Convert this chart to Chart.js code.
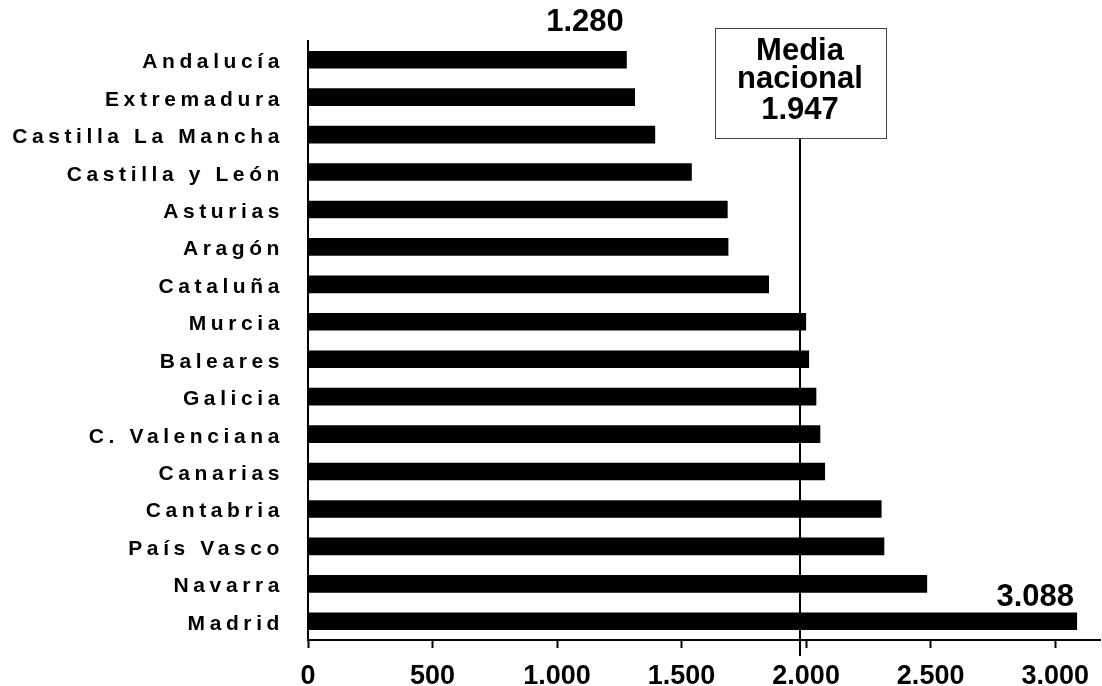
<!DOCTYPE html>
<html>
<head>
<meta charset="utf-8">
<script src="https://cdn.jsdelivr.net/npm/chart.js@4.4.1/dist/chart.umd.min.js"></script>
<style>
    html, body { margin: 0; padding: 0; background: #fff; }
    canvas { display: block; }
</style>
</head>
<body>
<canvas id="chart" width="1102" height="686"></canvas>
<script>
const regiones = ["Andalucía", "Extremadura", "Castilla La Mancha", "Castilla y León", "Asturias", "Aragón",
    "Cataluña", "Murcia", "Baleares", "Galicia", "C. Valenciana", "Canarias", "Cantabria", "País Vasco",
    "Navarra", "Madrid"];
const valores = [1280, 1313, 1394, 1541, 1685, 1688, 1851, 2000, 2012, 2041, 2057, 2076, 2303, 2314, 2486, 3088];

// only these two bars carry a value label
const etiquetas = { "Andalucía": "1.280", "Madrid": "3.088" };

const mediaTexto = ["Media", "nacional", "1.947"];
const mediaLinea = 1975; // where the line sits in the picture

const xTicks = [0, 500, 1000, 1500, 2000, 2500, 3000];
const xMax = 3180;

const FONT = "'Liberation Sans', Arial, sans-serif";

function puntos(v) {
    return String(v).replace(/\B(?=(\d{3})+(?!\d))/g, ".");
}

const dibujo = {
    id: "dibujo",
    afterDatasetsDraw(chart) {
        const ctx = chart.ctx;
        const x = chart.scales.x;
        const y = chart.scales.y;
        const meta = chart.getDatasetMeta(0);

        // region names, letter-spaced like the original
        ctx.save();
        ctx.fillStyle = "#000";
        ctx.font = "bold 21px " + FONT;
        ctx.letterSpacing = "4.6px";
        ctx.textAlign = "right";
        ctx.textBaseline = "alphabetic";
        regiones.forEach((r, i) => {
            ctx.fillText(r, x.left - 24, y.getPixelForValue(i) + 8.5);
        });
        ctx.restore();

        // value labels
        ctx.save();
        ctx.fillStyle = "#000";
        ctx.font = "bold 31px " + FONT;
        ctx.textAlign = "right";
        ctx.textBaseline = "alphabetic";
        regiones.forEach((r, i) => {
            if (!etiquetas[r]) return;
            const bar = meta.data[i];
            const off = i == 0 ? -28.5 : -15;
            ctx.fillText(etiquetas[r], bar.x - 3, bar.y + off);
        });
        ctx.restore();

        // media nacional line + box
        const mx = Math.round(x.getPixelForValue(mediaLinea));
        const boxTop = 28, boxBot = 138, boxW = 171;
        ctx.save();
        ctx.strokeStyle = "#000";
        ctx.lineWidth = 2;
        ctx.beginPath();
        ctx.moveTo(mx, boxBot);
        ctx.lineTo(mx, x.top + 16);
        ctx.stroke();

        ctx.fillStyle = "#fff";
        ctx.fillRect(mx - boxW / 2, boxTop, boxW, boxBot - boxTop);
        ctx.strokeStyle = "#444";
        ctx.lineWidth = 1;
        ctx.strokeRect(Math.round(mx - boxW / 2) + 0.5, boxTop + 0.5, boxW, boxBot - boxTop);

        ctx.fillStyle = "#000";
        ctx.font = "bold 31px " + FONT;
        ctx.textAlign = "center";
        ctx.textBaseline = "alphabetic";
        [60, 88, 119].forEach((by, i) => {
            ctx.fillText(mediaTexto[i], mx, by);
        });
        ctx.restore();
    }
};

new Chart(document.getElementById("chart"), {
    type: "bar",
    data: {
        labels: regiones,
        datasets: [{
            data: valores,
            backgroundColor: "#000",
            borderWidth: 0,
            categoryPercentage: 1,
            barPercentage: 0.47
        }]
    },
    options: {
        indexAxis: "y",
        responsive: false,
        animation: false,
        events: [],
        layout: { padding: { top: 41, right: 2, left: 0, bottom: 0 } },
        plugins: {
            legend: { display: false },
            tooltip: { enabled: false }
        },
        scales: {
            x: {
                min: 0,
                max: xMax,
                bounds: "data",
                border: { display: true, color: "#000", width: 2 },
                grid: {
                    drawOnChartArea: false,
                    drawTicks: true,
                    tickLength: 8,
                    tickColor: "#000",
                    tickWidth: 2
                },
                ticks: {
                    color: "#000",
                    padding: 12,
                    maxRotation: 0,
                    autoSkip: false,
                    font: { family: FONT, size: 27, weight: "bold" },
                    callback: v => puntos(v)
                },
                afterBuildTicks: s => { s.ticks = xTicks.map(v => ({ value: v })); },
                afterFit: s => { s.height = 46; }
            },
            y: {
                border: { display: true, color: "#000", width: 2 },
                grid: { display: false },
                ticks: { display: false },
                afterFit: s => { s.width = 308; }
            }
        }
    },
    plugins: [dibujo]
});
</script>
</body>
</html>
